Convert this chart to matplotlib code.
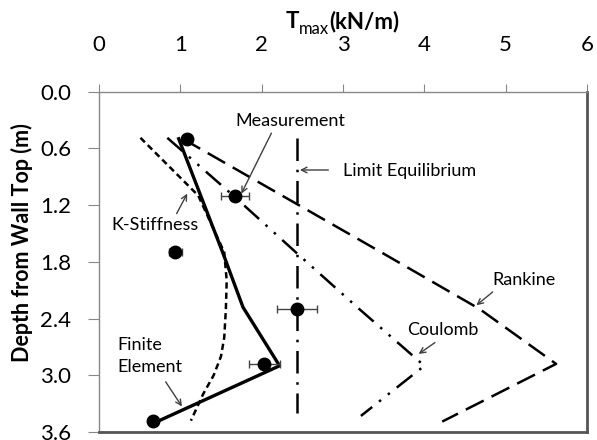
import numpy as np
import matplotlib
matplotlib.use('Agg')
from matplotlib import pyplot as plt

plt.rcParams['font.family'] = ['Lato', 'DejaVu Sans']

# measured Tmax with error bars
meas_depth = [0.50, 1.10, 1.70, 2.30, 2.88, 3.48]
meas_tmax = [1.08, 1.67, 0.94, 2.43, 2.03, 0.66]
meas_err = [0.05, 0.17, 0.08, 0.245, 0.19, 0.05]

# finite element
fe_depth = [0.50, 1.10, 1.70, 2.28, 2.90, 3.48]
fe_tmax = [0.98, 1.25, 1.52, 1.77, 2.22, 0.74]

# K-stiffness method
ks_depth = [0.49, 1.10, 1.70, 2.00, 2.30, 2.60, 2.80, 3.00, 3.20, 3.48]
ks_tmax = [0.51, 1.22, 1.54, 1.57, 1.56, 1.54, 1.50, 1.41, 1.28, 1.13]

# limit equilibrium
le_depth = [0.49, 3.40]
le_tmax = [2.43, 2.43]

# Rankine
rk_depth = [0.50, 1.10, 1.70, 2.30, 2.88, 3.49]
rk_tmax = [1.03, 2.25, 3.47, 4.68, 5.62, 4.22]

# Coulomb
cb_depth = [0.49, 1.10, 1.70, 2.30, 2.90, 3.43]
cb_tmax = [0.84, 1.65, 2.42, 3.20, 4.00, 3.22]

xticks = [0, 1, 2, 3, 4, 5, 6]
yticks = [0.0, 0.6, 1.2, 1.8, 2.4, 3.0, 3.6]

fig = plt.figure(figsize=(5.97, 4.40), dpi=100)
ax = fig.add_axes([99/597, 8/440, 488/597, 340.5/440])

ax.plot(rk_tmax, rk_depth, color='black', lw=1.8, ls=(0, (8, 3.5)))
ax.plot(cb_tmax, cb_depth, color='black', lw=1.8, ls=(0, (8, 3.5, 1, 3.5, 1, 3.5)))
ax.plot(le_tmax, le_depth, color='black', lw=1.8, ls=(0, (9, 3.5, 1, 3.5)))
ax.plot(ks_tmax, ks_depth, color='black', lw=1.8, ls=(0, (2.5, 1.6)))
ax.plot(fe_tmax, fe_depth, color='black', lw=2.4)
ax.errorbar(meas_tmax, meas_depth, xerr=meas_err, fmt='o', color='black',
            ms=9, ecolor='#444444', elinewidth=1, capsize=3, zorder=5)

ax.set_xlim(0, 6)
ax.set_ylim(3.6, 0)
ax.xaxis.tick_top()
ax.set_xticks(xticks)
ax.set_yticks(yticks)
ax.set_yticklabels(['%.1f' % v for v in yticks])
ax.tick_params(axis='x', direction='out', length=6, color='#888888', pad=20,
               labelsize=16)
ax.tick_params(axis='y', direction='out', length=8, color='#888888', pad=12,
               labelsize=16)
for s in ['left', 'top']:
    ax.spines[s].set_color('#888888')
    ax.spines[s].set_linewidth(1)
for s in ['right', 'bottom']:
    ax.spines[s].set_color('#555555')
    ax.spines[s].set_linewidth(2)

# axis title: T (bold) + "max" subscript + (kN/m) (bold), centred at x=342.5 px
fig.canvas.draw()
r = fig.canvas.get_renderer()
parts = [('T', 16, 'bold', 0), ('max', 12, 'normal', -6), ('(kN/m)', 16, 'bold', 0)]
texts = []
for s, size, wt, dy in parts:
    t = fig.text(0, 0, s, fontsize=size, fontweight=wt, va='baseline')
    texts.append((t, dy))
widths = [t.get_window_extent(r).width for t, _ in texts]
x = 342.5 - sum(widths) / 2
base = 440 - 28
for (t, dy), w in zip(texts, widths):
    t.set_position((x / 597, (base + dy) / 440))
    x += w

fig.text(21.7/597, 1 - 242.5/440, 'Depth from Wall Top (m)', rotation=90,
         ha='center', va='center', fontsize=15.5, fontweight='bold')

arrow = dict(arrowstyle='->', color='#404040', lw=1, shrinkA=0, shrinkB=0)
fs = 13
ax.annotate('', xy=(1.75, 1.08), xytext=(2.12, 0.44), arrowprops=arrow)
ax.text(2.35, 0.31, 'Measurement', ha='center', va='center', fontsize=fs)
ax.annotate('', xy=(2.47, 0.83), xytext=(2.82, 0.83), arrowprops=arrow)
ax.text(3.0, 0.84, 'Limit Equilibrium', ha='left', va='center', fontsize=fs)
ax.annotate('', xy=(1.085, 1.08), xytext=(0.955, 1.29), arrowprops=arrow)
ax.text(0.69, 1.41, 'K-Stiffness', ha='center', va='center', fontsize=fs)
ax.annotate('', xy=(4.64, 2.26), xytext=(4.84, 2.12), arrowprops=arrow)
ax.text(4.84, 1.99, 'Rankine', ha='left', va='center', fontsize=fs)
ax.annotate('', xy=(3.93, 2.775), xytext=(4.13, 2.655), arrowprops=arrow)
ax.text(3.79, 2.52, 'Coulomb', ha='left', va='center', fontsize=fs)
ax.annotate('', xy=(1.02, 3.33), xytext=(0.82, 3.07), arrowprops=arrow)
ax.text(0.22, 2.80, 'Finite\nElement', ha='left', va='center', fontsize=fs,
        linespacing=1.45)

fig.savefig('out.png', dpi=100)
